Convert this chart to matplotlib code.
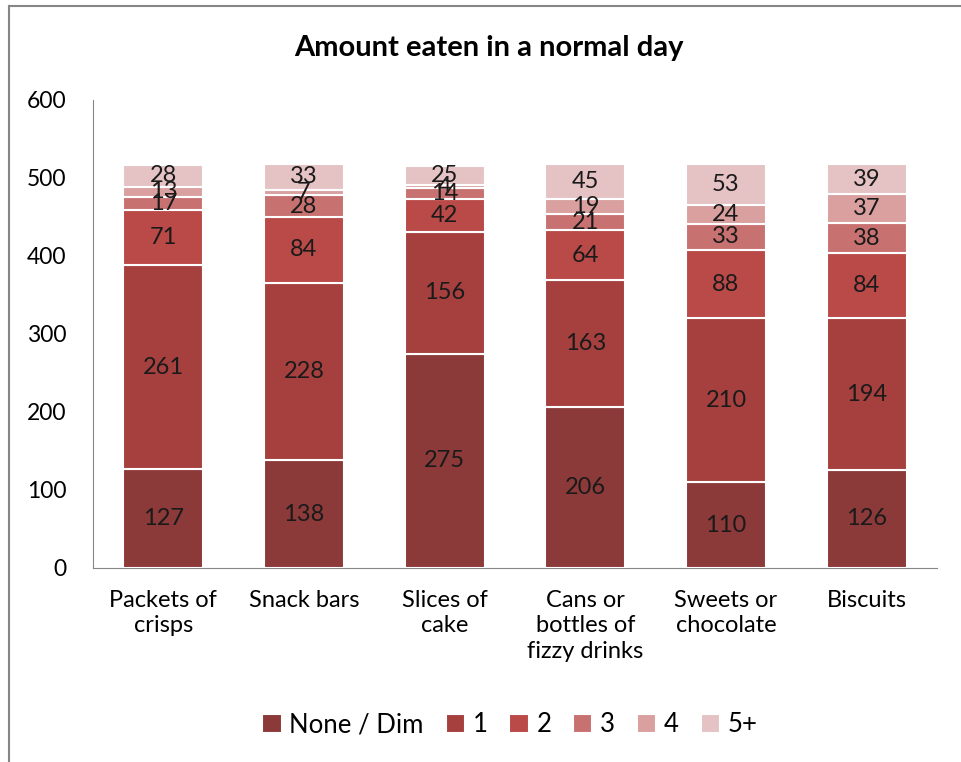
import matplotlib
matplotlib.use("Agg")
import matplotlib.pyplot as plt
from matplotlib.lines import Line2D
import numpy as np

categories = ["Packets of\ncrisps", "Snack bars", "Slices of\ncake",
              "Cans or\nbottles of\nfizzy drinks", "Sweets or\nchocolate", "Biscuits"]
series_names = ["None / Dim", "1", "2", "3", "4", "5+"]
none_dim = [127, 138, 275, 206, 110, 126]
one = [261, 228, 156, 163, 210, 194]
two = [71, 84, 42, 64, 88, 84]
three = [17, 28, 14, 21, 33, 38]
four = [13, 7, 4, 19, 24, 37]
five_plus = [28, 33, 25, 45, 53, 39]
colors = ["#8B3A39", "#A5403F", "#BA4A48", "#C87171", "#D9A09F", "#E5C3C4"]
yticks = [0, 100, 200, 300, 400, 500, 600]

plt.rcParams['font.family'] = ['Lato', 'DejaVu Sans']

fig = plt.figure(figsize=(9.62, 7.62), dpi=100)
ax = fig.add_axes([93/962, 1-568/762, 844/962, 468/762])

series = [none_dim, one, two, three, four, five_plus]
x = np.arange(len(categories))
bottom = np.zeros(len(categories))
for name, vals, c in zip(series_names, series, colors):
    vals = np.array(vals, dtype=float)
    ax.bar(x, vals, 0.57, bottom=bottom, color=c, edgecolor="white",
           linewidth=1.5, label=name, zorder=3)
    for xi, b, v in zip(x, bottom, vals):
        ax.text(xi, b + v/2, f"{int(v)}", ha="center", va="center",
                fontsize=17, color="#1a1a1a", zorder=5)
    bottom += vals

ax.set_xlim(-0.5, len(categories) - 0.5)
ax.set_ylim(0, 600)
ax.set_yticks(yticks)
ax.set_yticklabels([str(t) for t in yticks], fontsize=16.5)
ax.set_xticks(x)
ax.set_xticklabels(categories, fontsize=17, linespacing=1.25)
ax.tick_params(axis="y", length=0, pad=19)
ax.tick_params(axis="x", length=0, pad=16)
for s in ["top", "right"]:
    ax.spines[s].set_visible(False)
ax.spines["left"].set_color("#868686")
ax.spines["bottom"].set_color("#868686")

fig.text(489/962, 1-48/762, "Amount eaten in a normal day", ha="center",
         va="center", fontsize=21, fontweight="bold")

fig.legend(loc="center", bbox_to_anchor=(510/962, 1-725/762), ncol=6,
           frameon=False, fontsize=18.5, handlelength=0.75, handleheight=0.75,
           handletextpad=0.3, columnspacing=0.85)

# chart area border (left and top visible)
fig.add_artist(Line2D([9/962, 9/962], [0, 1-6/762], color="#868686", lw=1.5,
                      transform=fig.transFigure))
fig.add_artist(Line2D([9/962, 1], [1-6/762, 1-6/762], color="#868686", lw=1.5,
                      transform=fig.transFigure))

fig.savefig("out.png", dpi=100)
